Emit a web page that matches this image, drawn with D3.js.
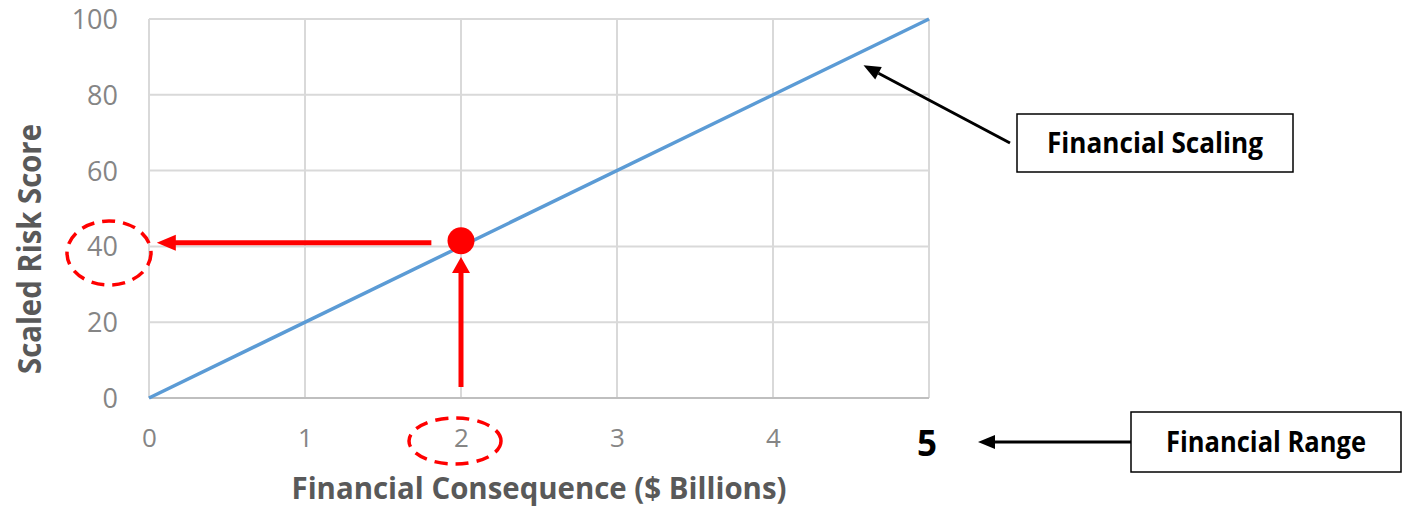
<!DOCTYPE html>
<html><head><meta charset="utf-8">
<script src="https://cdn.jsdelivr.net/npm/d3@7/dist/d3.min.js"></script>
<style>html,body{margin:0;padding:0;background:#fff;}svg{display:block;font-family:"Open Sans",sans-serif;}</style>
</head><body>
<svg id="c" width="1418" height="507"></svg>
<script>
// ---- data ----
const xTicks = [0, 1, 2, 3, 4];
const xMaxLabel = "5";
const yTicks = [0, 20, 40, 60, 80, 100];
const lineX = [0, 5];
const lineY = [0, 100];
const pointX = [2];
const pointY = [41.5];
const xTitle = "Financial Consequence ($ Billions)";
const yTitle = "Scaled Risk Score";
const noteScaling = "Financial Scaling";
const noteRange = "Financial Range";

const svg = d3.select("#c");
const x = d3.scaleLinear().domain([0, 5]).range([149, 929]);
const y = d3.scaleLinear().domain([0, 100]).range([398, 19]);

// gridlines
const grid = svg.append("g");
grid.selectAll(".gx").data(d3.range(0, 6)).join("line")
  .attr("x1", d => x(d)).attr("x2", d => x(d)).attr("y1", y(0)).attr("y2", y(100))
  .attr("stroke", "#d9d9d9").attr("stroke-width", 2);
grid.selectAll(".gy").data(yTicks).join("line")
  .attr("x1", x(0)).attr("x2", x(5)).attr("y1", d => y(d)).attr("y2", d => y(d))
  .attr("stroke", d => d === 0 ? "#bfbfbf" : "#d9d9d9").attr("stroke-width", 2);

// axes via d3
const xAxis = svg.append("g").attr("transform", `translate(0,${y(0)})`)
  .call(d3.axisBottom(x).tickValues(xTicks).tickSize(0).tickPadding(31).tickFormat(d3.format("d")));
xAxis.select(".domain").remove();
xAxis.selectAll("text").attr("font-size", 26).attr("fill", "#858585").attr("font-family", "Open Sans");

const yAxis = svg.append("g").attr("transform", `translate(${x(0)},0)`)
  .call(d3.axisLeft(y).tickValues(yTicks).tickSize(0).tickPadding(31).tickFormat(d3.format("d")));
yAxis.select(".domain").remove();
yAxis.selectAll("text").attr("font-size", 27).attr("fill", "#858585").attr("font-family", "Open Sans")
  .attr("dy", "0.35em");

// bold 5 label
svg.append("text").attr("x", x(5) - 2).attr("y", 456).attr("text-anchor", "middle")
  .attr("font-size", 35).attr("font-weight", "bold").attr("fill", "#000").text(xMaxLabel);

// axis titles
svg.append("text").attr("x", 539).attr("y", 499).attr("text-anchor", "middle")
  .attr("font-size", 31).attr("font-weight", "bold").attr("fill", "#595959")
  .attr("textLength", 495).attr("lengthAdjust", "spacingAndGlyphs").text(xTitle);
svg.append("text").attr("transform", "translate(41,249) rotate(-90)").attr("text-anchor", "middle")
  .attr("font-size", 33).attr("font-weight", "bold").attr("fill", "#595959")
  .attr("textLength", 250).attr("lengthAdjust", "spacingAndGlyphs").text(yTitle);

// series line
const pts = lineX.map((d, i) => [d, lineY[i]]);
svg.append("path").datum(pts)
  .attr("d", d3.line().x(d => x(d[0])).y(d => y(d[1])))
  .attr("fill", "none").attr("stroke", "#5b9bd5").attr("stroke-width", 3.5);

// red arrows
const red = "#ff0000";
const px = x(pointX[0]), py = y(pointY[0]);
const hy = py + 2;
// horizontal arrow to y-axis
const hTail = x(1.81), hTip = x(0.05);
svg.append("line").attr("x1", hTail).attr("x2", hTip + 16).attr("y1", hy).attr("y2", hy)
  .attr("stroke", red).attr("stroke-width", 5);
svg.append("path").attr("d", `M${hTip},${hy} L${hTip + 19},${hy - 8} L${hTip + 19},${hy + 8} Z`).attr("fill", red);
// vertical arrow from x-axis
const vTail = y(2.9), vTip = y(37.2);
svg.append("line").attr("x1", px).attr("x2", px).attr("y1", vTail).attr("y2", vTip + 14)
  .attr("stroke", red).attr("stroke-width", 5);
svg.append("path").attr("d", `M${px},${vTip} L${px - 9},${vTip + 16} L${px + 9},${vTip + 16} Z`).attr("fill", red);

// point
svg.selectAll(".pt").data(pointX).join("circle")
  .attr("cx", d => x(d)).attr("cy", (d, i) => y(pointY[i])).attr("r", 13.5).attr("fill", red);

// dashed ellipses around the tick labels
svg.append("ellipse").attr("cx", 109).attr("cy", 253).attr("rx", 42).attr("ry", 32)
  .attr("fill", "none").attr("stroke", red).attr("stroke-width", 3.5).attr("stroke-dasharray", "13,8");
svg.append("ellipse").attr("cx", x(2) - 6).attr("cy", 441).attr("rx", 46).attr("ry", 23)
  .attr("fill", "none").attr("stroke", red).attr("stroke-width", 3.5).attr("stroke-dasharray", "13,8");

// black annotation arrows
function blackArrow(x1, y1, x2, y2) {
  const ang = Math.atan2(y2 - y1, x2 - x1);
  const L = 17, W = 7;
  const bx = x2 - L * Math.cos(ang), by = y2 - L * Math.sin(ang);
  svg.append("line").attr("x1", x1).attr("y1", y1).attr("x2", bx).attr("y2", by)
    .attr("stroke", "#000").attr("stroke-width", 3);
  const nx = -Math.sin(ang) * W, ny = Math.cos(ang) * W;
  svg.append("path").attr("d", `M${x2},${y2} L${bx + nx},${by + ny} L${bx - nx},${by - ny} Z`).attr("fill", "#000");
}
blackArrow(1010, 143, x(4.58), y(87.8));
blackArrow(1131, 442, 978, 442);

// boxes
function box(x0, y0, w, h, label, tl) {
  svg.append("rect").attr("x", x0).attr("y", y0).attr("width", w).attr("height", h)
    .attr("fill", "#fff").attr("stroke", "#000").attr("stroke-width", 1.5);
  svg.append("text").attr("x", x0 + w / 2).attr("y", y0 + h / 2 + 10).attr("text-anchor", "middle")
    .attr("font-size", 28).attr("font-weight", "bold").attr("fill", "#000")
    .attr("textLength", tl).attr("lengthAdjust", "spacingAndGlyphs").text(label);
}
box(1017, 114, 276, 58, noteScaling, 216);
box(1131, 412, 270, 60, noteRange, 200);
</script>
</body></html>
